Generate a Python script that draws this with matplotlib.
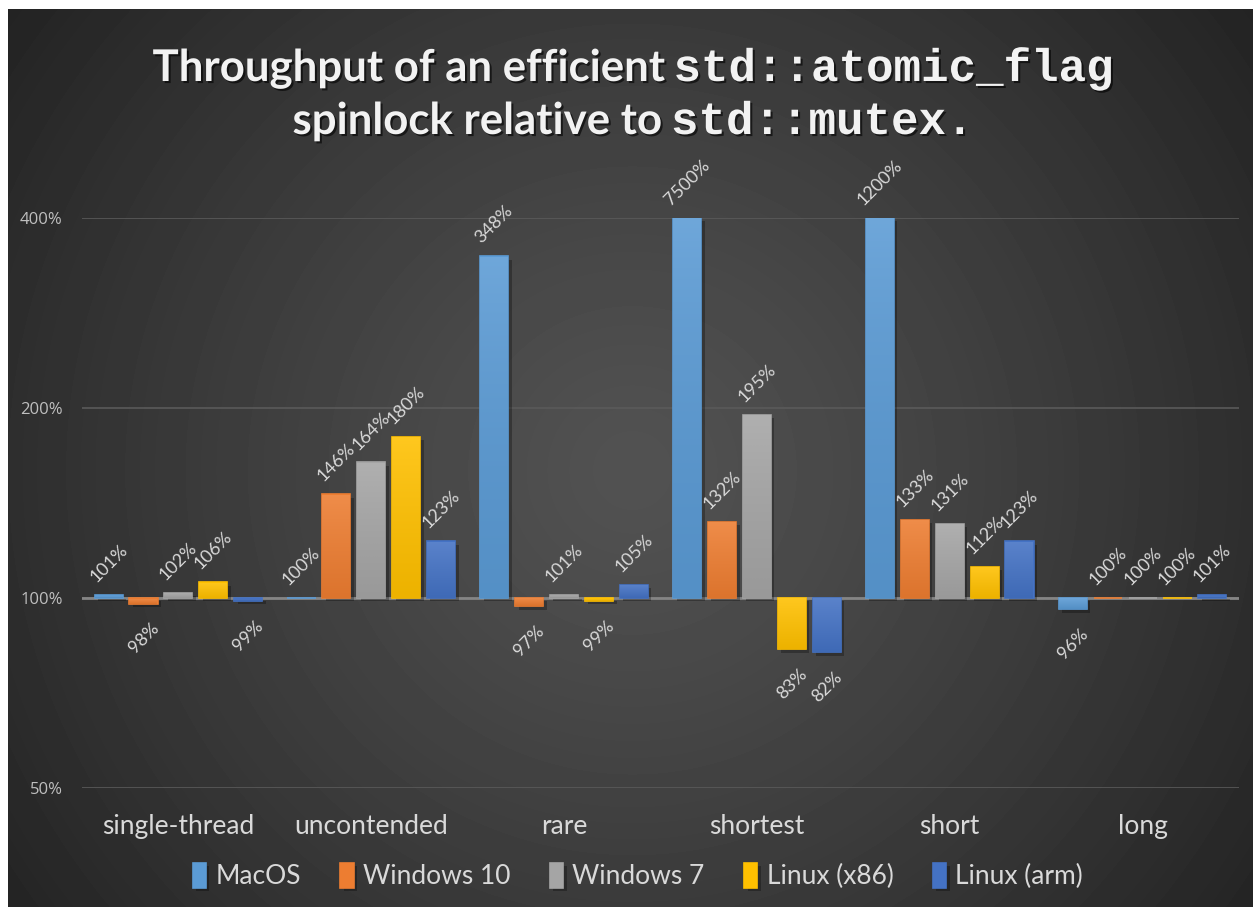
import numpy as np
import matplotlib
matplotlib.use('Agg')
import matplotlib.pyplot as plt
import matplotlib.patheffects as pe
from matplotlib.colors import to_rgb
from matplotlib.ticker import NullLocator

categories = ['single-thread', 'uncontended', 'rare', 'shortest', 'short', 'long']
series_names = ['MacOS', 'Windows 10', 'Windows 7', 'Linux (x86)', 'Linux (arm)']
macos = [101, 100, 348, 7500, 1200, 96]
win10 = [98, 146, 97, 132, 133, 100]
win7 = [102, 164, 101, 195, 131, 100]
linux_x86 = [106, 180, 99, 83, 112, 100]
linux_arm = [99, 123, 105, 82, 123, 101]
series_colors = ['#5B9BD5', '#ED7D31', '#A5A5A5', '#FFC000', '#4472C4']
y_ticks = [0.5, 1, 2, 4]
y_tick_labels = ['50%', '100%', '200%', '400%']

W, H = 1253, 907
fig = plt.figure(figsize=(W / 100, H / 100), dpi=100)
fig.patch.set_facecolor('white')

# radial background panel
bg = fig.add_axes([8 / W, 0, 1 - 8 / W, 1 - 9 / H])
bg.set_axis_off()
yy, xx = np.mgrid[0:H - 9, 0:W - 8]
d = np.hypot(xx - 624, yy - 461) / 790
g = (82 - 48 * np.clip(d, 0, 1) ** 1.2) / 255
bg.imshow(g, cmap='gray', vmin=0, vmax=1, aspect='auto', interpolation='bilinear')

ax = fig.add_axes([82 / W, 1 - 788 / H, (1239 - 82) / W, (788 - 218) / H])
ax.patch.set_alpha(0)
ax.set_yscale('log', base=2)

def mix(c, other, t):
    c = np.array(to_rgb(c))
    return c * (1 - t) + np.array(other) * t

data = [macos, win10, win7, linux_x86, linux_arm]
x = np.arange(len(categories))
pitch, width = 0.181, 0.146
shadow = [pe.SimplePatchShadow(offset=(2.5, -2.5), shadow_rgbFace='black', alpha=0.28), pe.Normal()]
handles = []
for i, (name, vals, col) in enumerate(zip(series_names, data, series_colors)):
    tops = np.minimum(np.array(vals) / 100, 4)
    xs = x + (i - 2) * pitch
    bars = ax.bar(xs, tops - 1, bottom=1, width=width, color=col, edgecolor=col,
                  lw=1.2, zorder=3, label=name, path_effects=shadow)
    handles.append(bars)
    c_top, c_bot = mix(col, (1, 1, 1), 0.12), mix(col, (0, 0, 0), 0.07)
    grad = np.linspace(0, 1, 64)[:, None, None]
    img = c_top * (1 - grad) + c_bot * grad
    for b, xc, top, v in zip(bars, xs, tops, vals):
        if top != 1:
            lo, hi = min(top, 1), max(top, 1)
            im = ax.imshow(img, extent=(xc - width / 2, xc + width / 2, lo, hi),
                           aspect='auto', zorder=3.5, interpolation='bilinear')
            im.set_clip_path(b)
        above = top >= 1
        ax.annotate(f'{v}%', (xc, top), xytext=(0, 7 if above else -12),
                    textcoords='offset points', ha='center',
                    va='bottom' if above else 'top', rotation=45, fontsize=13,
                    color='#d9d9d9', family='Lato', annotation_clip=False)

ax.set_ylim(0.5, 4)
ax.set_xlim(-0.5, 5.5)
ax.set_yticks(y_ticks, y_tick_labels)
ax.yaxis.set_minor_locator(NullLocator())
ax.tick_params(axis='y', length=0, pad=14, labelsize=12, labelcolor='#bfbfbf')
ax.set_xticks(x, categories)
ax.tick_params(axis='x', length=0, pad=19, labelsize=19, labelcolor='#d9d9d9')
for lab in ax.get_yticklabels():
    lab.set_family('Open Sans')
for lab in ax.get_xticklabels():
    lab.set_family('Lato')
for s in ax.spines.values():
    s.set_visible(False)
ax.set_axisbelow(True)
ax.yaxis.grid(True, color='#5a5a5a', lw=1.2)
ax.axhline(1, color='#858585', lw=2, zorder=2)

# title built from sans + mono pieces
tshadow = [pe.withSimplePatchShadow(offset=(1.5, -1.5), shadow_rgbFace='black', alpha=0.6)]
sans = ['Lato', 'DejaVu Sans']
mono = ['Liberation Mono', 'DejaVu Sans Mono']

def title_line(parts, baseline_px, center_px=633, gap=9):
    y = 1 - baseline_px / H
    texts = [fig.text(0, y, s, fontsize=fs, family=fam, weight='bold', color='#f2f2f2',
                      va='baseline', path_effects=tshadow) for s, fam, fs in parts]
    r = fig.canvas.get_renderer()
    widths = [t.get_window_extent(r).width for t in texts]
    px = center_px - (sum(widths) + gap * (len(texts) - 1)) / 2
    for t, w in zip(texts, widths):
        t.set_x(px / W)
        px += w + gap

title_line([('Throughput of an efficient', sans, 31.5), ('std::atomic_flag', mono, 33)], 81)
title_line([('spinlock relative to', sans, 31.5), ('std::mutex.', mono, 33)], 134)

leg = fig.legend(handles, series_names, loc='center', bbox_to_anchor=(638 / W, 1 - 876 / H),
                 ncol=5, frameon=False, labelcolor='#d9d9d9',
                 prop={'family': 'Lato', 'size': 19}, handlelength=0.5, handleheight=1.1,
                 handletextpad=0.35, columnspacing=1.5)

fig.savefig('out.png', dpi=100, facecolor=fig.get_facecolor())
